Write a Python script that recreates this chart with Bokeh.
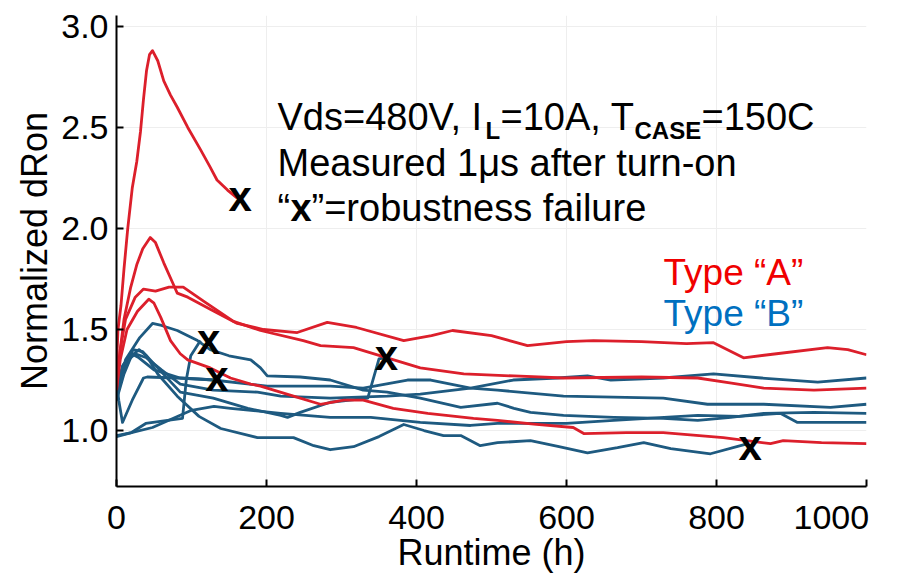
from bokeh.plotting import figure
from bokeh.models import Range1d, FixedTicker
from bokeh.core.properties import value
from bokeh.embed import file_html
from bokeh.resources import INLINE

# ---------------- data ----------------
x_ticks = [0, 200, 400, 600, 800, 1000]
y_ticks = [1.0, 1.5, 2.0, 2.5, 3.0]
y_tick_labels = ["1.0", "1.5", "2.0", "2.5", "3.0"]

# Type "A" (red) devices: runtime (h) and normalized dRon
a1_h = [0, 2, 6, 10, 15, 21, 27, 32, 36, 40, 44, 48, 55, 63, 72, 81, 95, 112, 124, 134, 148, 161]
a1_v = [1.32, 1.50, 1.62, 1.80, 2.00, 2.20, 2.33, 2.48, 2.64, 2.78, 2.86, 2.88, 2.83, 2.73, 2.66, 2.60, 2.50, 2.39, 2.31, 2.24, 2.19, 2.15]

a2_h = [0, 5, 10, 19, 27, 35, 45, 52, 63, 75, 81, 95, 125, 161, 196, 241, 281, 320, 383, 420, 448, 500, 548, 600, 636, 700, 760, 796, 836, 880, 948, 975, 1000]
a2_v = [1.25, 1.40, 1.55, 1.71, 1.82, 1.90, 1.955, 1.93, 1.83, 1.73, 1.68, 1.66, 1.60, 1.53, 1.50, 1.485, 1.535, 1.51, 1.445, 1.47, 1.495, 1.47, 1.42, 1.44, 1.445, 1.44, 1.43, 1.435, 1.36, 1.38, 1.41, 1.40, 1.375]

a3_h = [0, 5, 12, 25, 36, 52, 70, 89, 116, 156, 192, 249, 272, 316, 361, 405, 463, 530, 596, 700, 775, 820, 863, 930, 1000]
a3_v = [1.20, 1.40, 1.55, 1.66, 1.70, 1.69, 1.71, 1.71, 1.64, 1.54, 1.495, 1.445, 1.42, 1.41, 1.36, 1.31, 1.28, 1.27, 1.26, 1.265, 1.26, 1.235, 1.21, 1.20, 1.21]

a4_h = [0, 5, 14, 28, 43, 50, 59, 72, 85, 95, 125, 152, 179, 192, 236, 272, 303, 329, 369, 415, 476, 508, 560, 609, 623, 680, 729, 809, 872, 889, 940, 1000]
a4_v = [1.20, 1.35, 1.50, 1.59, 1.65, 1.63, 1.56, 1.445, 1.38, 1.35, 1.31, 1.26, 1.23, 1.22, 1.17, 1.13, 1.15, 1.15, 1.11, 1.085, 1.06, 1.05, 1.03, 1.015, 0.985, 0.99, 0.99, 0.965, 0.935, 0.95, 0.94, 0.935]

# Type "B" (blue) devices
b1_h = [0, 4, 12, 31, 48, 60, 81, 108, 125, 150, 179, 192, 201, 245, 285, 329, 361, 405, 459, 508, 530, 552, 596, 663, 729, 775, 819, 863, 930, 1000]
b1_v = [1.15, 1.23, 1.35, 1.46, 1.53, 1.52, 1.495, 1.445, 1.40, 1.37, 1.35, 1.31, 1.27, 1.265, 1.25, 1.20, 1.19, 1.16, 1.115, 1.135, 1.11, 1.09, 1.075, 1.065, 1.06, 1.05, 1.065, 1.085, 1.09, 1.085]

b2_h = [0, 8, 20, 30, 50, 85, 129, 201, 285, 329, 388, 419, 472, 508, 596, 729, 788, 863, 952, 1000]
b2_v = [1.20, 1.32, 1.38, 1.36, 1.30, 1.26, 1.25, 1.22, 1.22, 1.21, 1.25, 1.25, 1.21, 1.20, 1.17, 1.16, 1.13, 1.13, 1.115, 1.13]

b3_h = [0, 10, 25, 40, 60, 85, 129, 188, 219, 285, 361, 405, 472, 529, 588, 628, 659, 729, 796, 860, 935, 1000]
b3_v = [1.22, 1.33, 1.38, 1.36, 1.30, 1.23, 1.20, 1.19, 1.17, 1.16, 1.17, 1.18, 1.21, 1.25, 1.26, 1.27, 1.25, 1.26, 1.28, 1.26, 1.24, 1.26]

b4_h = [0, 20, 48, 100, 130, 152, 219, 285, 339, 405, 472, 508, 600, 663, 775, 830, 885, 908, 1000]
b4_v = [0.975, 0.99, 1.015, 1.10, 1.12, 1.11, 1.085, 1.065, 1.065, 1.04, 1.025, 1.035, 1.035, 1.05, 1.075, 1.07, 1.085, 1.04, 1.04]

b5_h = [0, 20, 39, 68, 88, 93, 99, 112]
b5_v = [0.97, 0.99, 1.035, 1.05, 1.06, 1.25, 1.37, 1.445]

b6_h = [0, 3, 8, 21, 36, 41, 80, 110, 130]
b6_v = [1.25, 1.15, 1.04, 1.15, 1.26, 1.265, 1.26, 1.255, 1.25]

b7_h = [0, 10, 22, 35, 50, 85, 129, 175, 219, 228, 245, 285, 335, 350, 357]
b7_v = [1.18, 1.30, 1.40, 1.39, 1.33, 1.19, 1.16, 1.11, 1.075, 1.065, 1.09, 1.14, 1.16, 1.355, 1.36]

b8_h = [0, 10, 20, 30, 40, 55, 81, 110, 139, 188, 236, 263, 285, 316, 350, 383, 410, 436, 459, 485, 508, 552, 590, 628, 668, 703, 739, 792, 832, 842]
b8_v = [1.15, 1.28, 1.37, 1.40, 1.37, 1.28, 1.17, 1.07, 1.01, 0.965, 0.965, 0.925, 0.905, 0.92, 0.97, 1.03, 1.0, 0.975, 0.975, 0.925, 0.94, 0.95, 0.92, 0.89, 0.915, 0.94, 0.91, 0.885, 0.925, 0.935]

# robustness failures ("x")
fail_h = [165, 123, 134, 360, 845]
fail_v = [2.148, 1.44, 1.257, 1.361, 0.916]

type_a_series = [(a1_h, a1_v), (a2_h, a2_v), (a3_h, a3_v), (a4_h, a4_v)]
type_b_series = [(b1_h, b1_v), (b2_h, b2_v), (b3_h, b3_v), (b4_h, b4_v),
                 (b5_h, b5_v), (b6_h, b6_v), (b7_h, b7_v), (b8_h, b8_v)]

# ---------------- styling ----------------
RED = "#DC1F2B"
BLUE = "#1E5A80"
FONT = "Liberation Sans"
NBSP = "\u00a0"

W, H = 897, 579
L, R, T, B = 116, 31, 15, 93
X0, X1 = 0, 1000
Y0, Y1 = 0.723, 3.054

p = figure(width=W, height=H, output_backend="svg", toolbar_location=None,
           x_range=Range1d(X0, X1), y_range=Range1d(Y0, Y1),
           min_border_left=L, min_border_right=R, min_border_top=T, min_border_bottom=B)
p.outline_line_color = None
p.background_fill_color = "white"
p.border_fill_color = "white"

fw = W - L - R
fh = H - T - B


def hx(px):
    return X0 + (px - L) * (X1 - X0) / fw


def vy(py):
    return Y0 + (T + fh - py) * (Y1 - Y0) / fh


for ax in (p.xaxis[0], p.yaxis[0]):
    ax.axis_line_color = "black"
    ax.axis_line_width = 2
    ax.major_tick_line_color = "black"
    ax.major_tick_line_width = 2
    ax.major_tick_in = 7
    ax.major_tick_out = 0
    ax.minor_tick_line_color = None
    ax.major_label_text_font = FONT
    ax.major_label_text_font_size = "34px"
    ax.major_label_text_color = "black"
    ax.axis_label_text_font = FONT
    ax.axis_label_text_font_size = "36px"
    ax.axis_label_text_font_style = "normal"
    ax.axis_label_text_color = "black"

p.xaxis.ticker = FixedTicker(ticks=x_ticks)
p.yaxis.ticker = FixedTicker(ticks=y_ticks)
p.yaxis.major_label_overrides = {t: s for t, s in zip(y_ticks, y_tick_labels)}
# last x label is pulled left (padded with no-break spaces) so it stays in view
p.xaxis.major_label_overrides = {1000: "1000" + NBSP * 3}
p.xaxis.major_label_standoff = 11
p.yaxis.major_label_standoff = 8
p.xaxis.axis_label = "Runtime (h)"
p.yaxis.axis_label = "Normalized dRon"
p.xaxis.axis_label_standoff = -7
p.yaxis.axis_label_standoff = 3

p.xgrid.ticker = FixedTicker(ticks=x_ticks)
p.ygrid.ticker = FixedTicker(ticks=y_ticks)
p.grid.grid_line_color = "#eeeeee"
p.grid.grid_line_width = 1

for hs, vs in type_b_series:
    p.line(hs, vs, line_color=BLUE, line_width=2.8, line_join="round")
for hs, vs in type_a_series:
    p.line(hs, vs, line_color=RED, line_width=2.8, line_join="round")

p.text(x=fail_h, y=fail_v, text=["x"] * len(fail_h), text_font=value(FONT),
       text_font_size="42px", text_font_style="bold", text_color="black",
       text_align="center", text_baseline="alphabetic", y_offset=-2)


def txt(px, py, s, size="38px", style="normal", color="black"):
    p.text(x=[hx(px)], y=[vy(py)], text=[s], text_font=value(FONT),
           text_font_size=size, text_font_style=style, text_color=color,
           text_align="left", text_baseline="alphabetic")


# annotation block
tx = 277
txt(tx, 116, "Vds=480V, I")
txt(tx + 208, 130, "L", size="24px", style="bold")
txt(tx + 223, 116, "=10A, T")
txt(tx + 357, 130, "CASE", size="24px", style="bold")
txt(tx + 424, 116, "=150C")
txt(tx, 162, "Measured 1\u03bcs after turn-on")
txt(tx, 207, "\u201c")
txt(tx + 13, 207, "x", style="bold")
txt(tx + 34, 207, "\u201d=robustness failure")

txt(663, 272, "Type \u201cA\u201d", size="37px", color="#F00000")
txt(663, 313, "Type \u201cB\u201d", size="37px", color="#0070C0")

open("out.html", "w").write(file_html(p, INLINE))
